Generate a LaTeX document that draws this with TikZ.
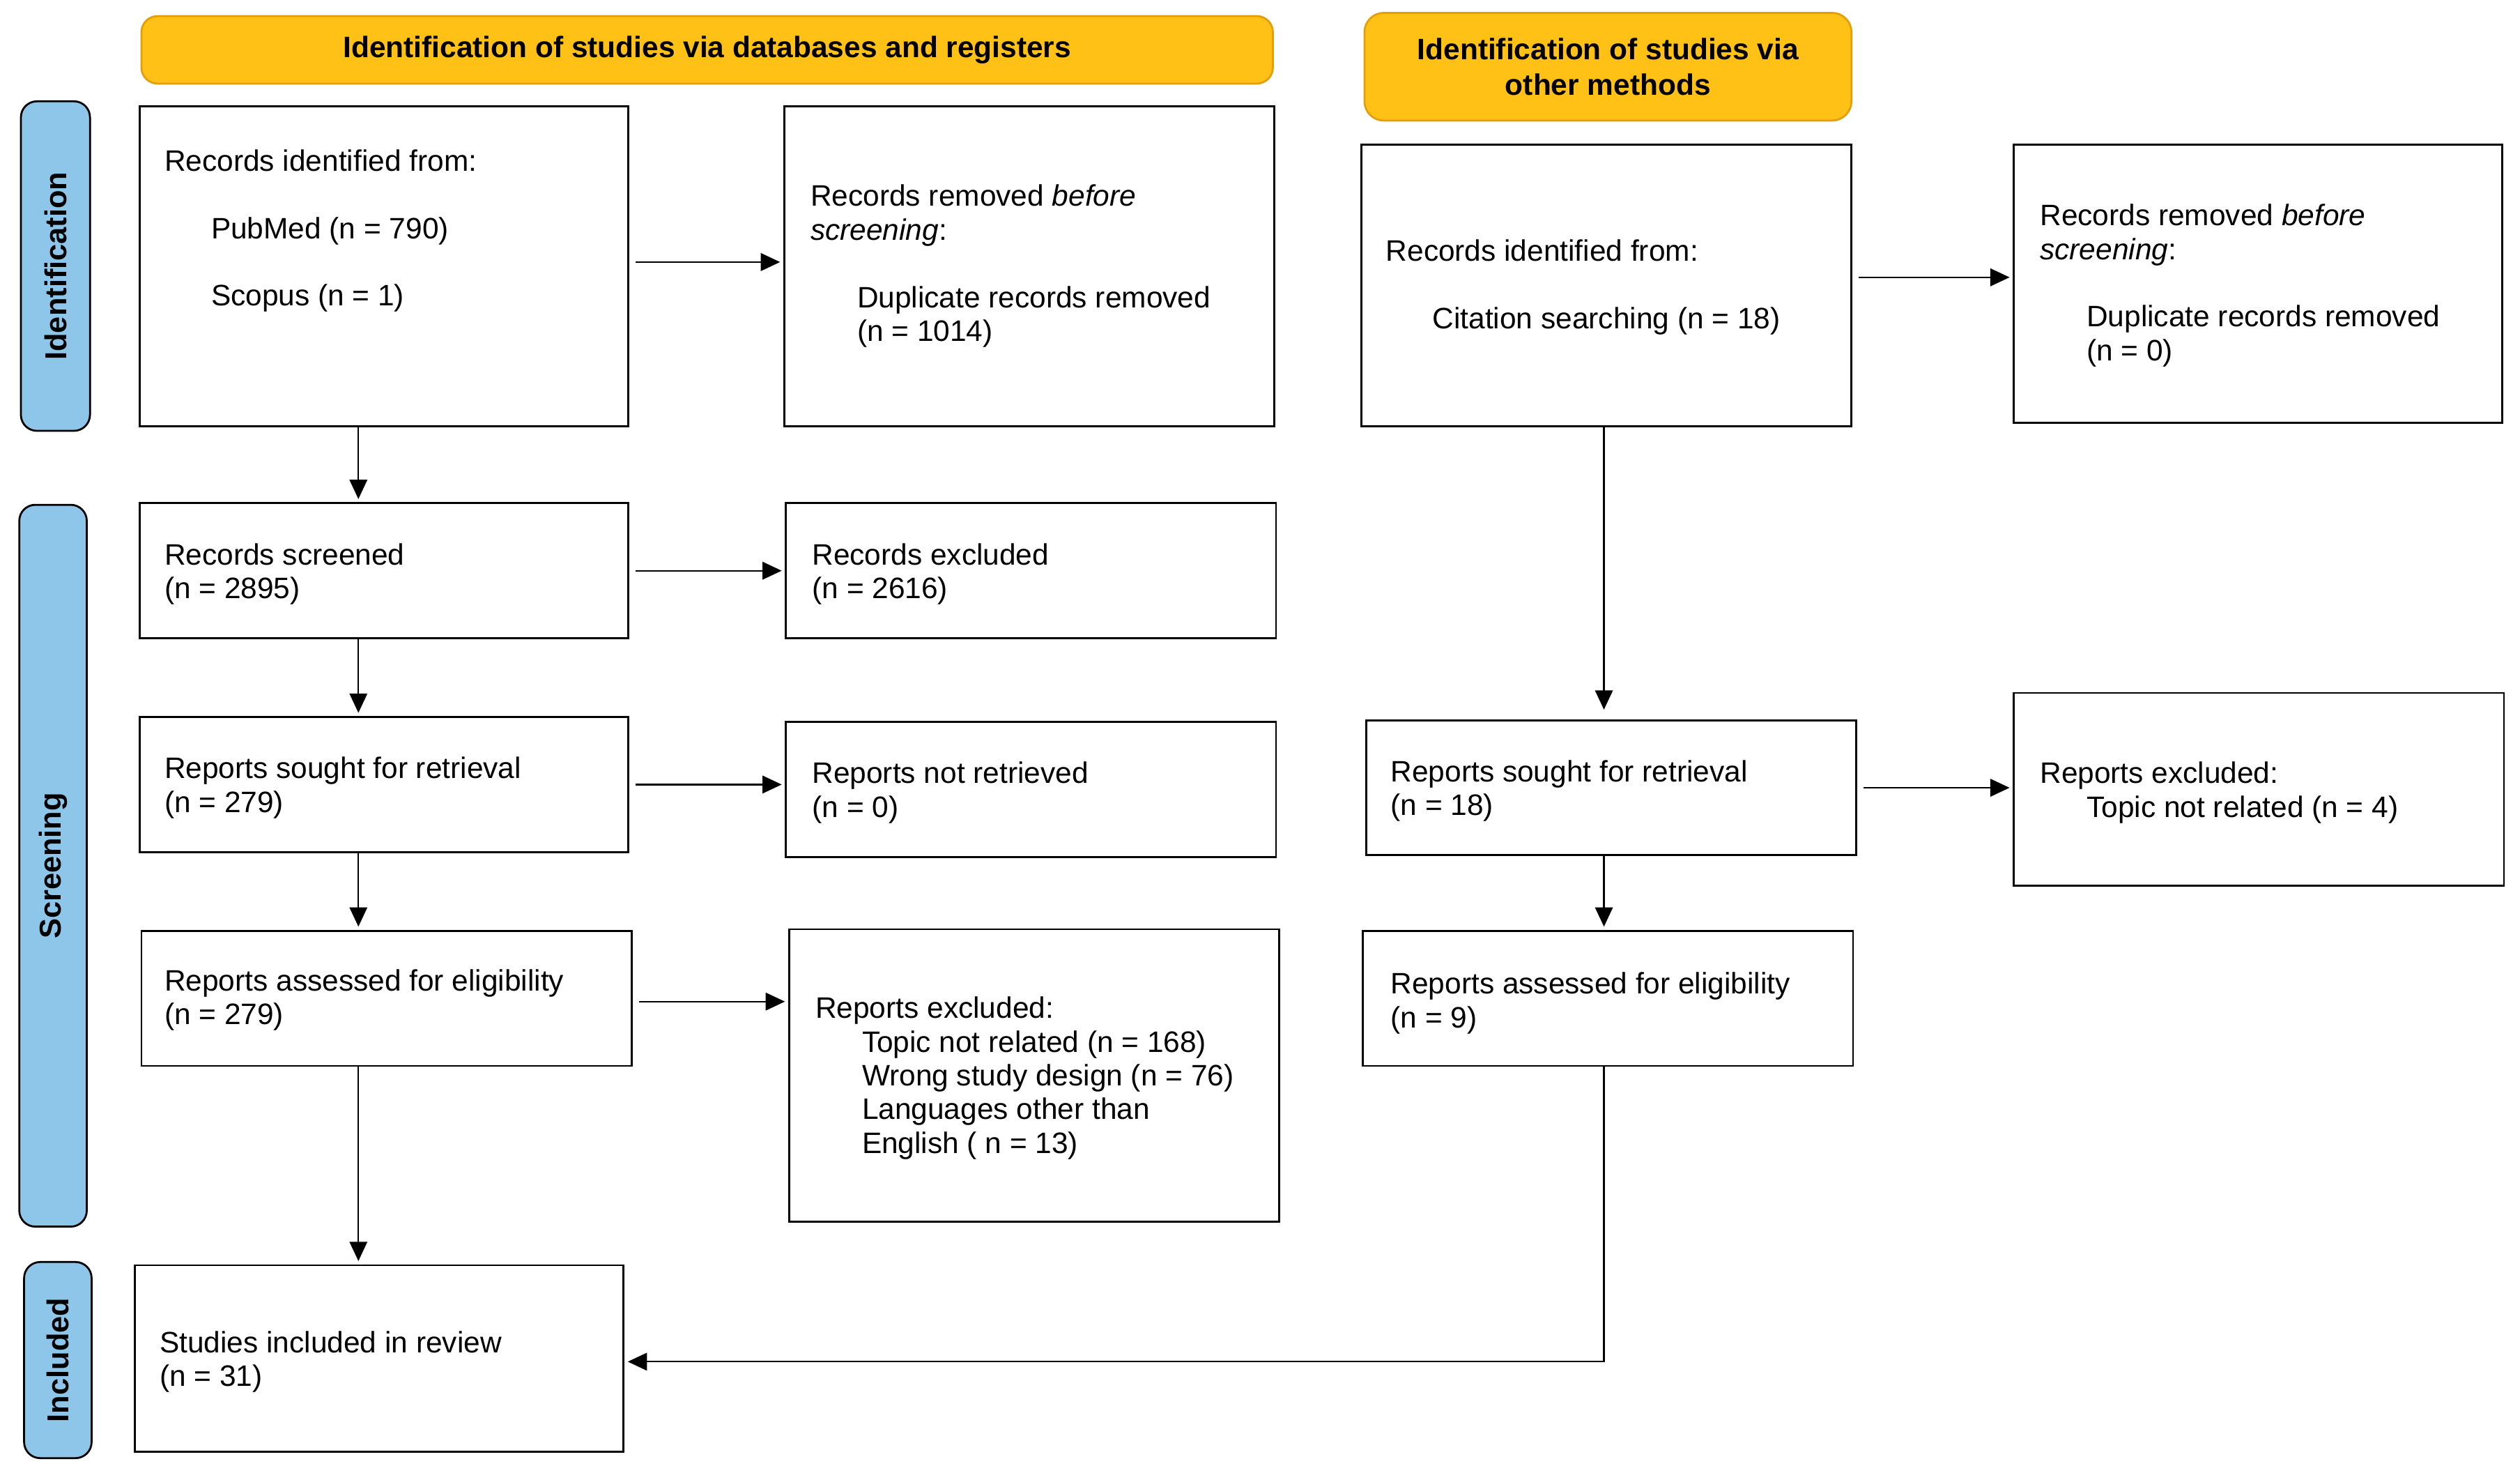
\documentclass[tikz,border=0pt]{standalone}
\usepackage{fontspec}
\setmainfont{Liberation Sans}
\usetikzlibrary{arrows.meta,fit,calc}
\definecolor{hdr}{HTML}{FFC116}
\definecolor{hdrline}{HTML}{E39E0A}
\definecolor{sidefill}{HTML}{8EC6EA}
\begin{document}
\begin{tikzpicture}[x=0.5pt,y=-0.5pt,
  box/.style={draw, line width=0.6pt, inner sep=0pt},
  hdrbox/.style={draw=hdrline, fill=hdr, rounded corners=5pt, line width=0.6pt, inner sep=0pt},
  sidebox/.style={draw=black, fill=sidefill, rounded corners=5pt, line width=0.6pt, inner sep=0pt},
  txt/.style={anchor=north west, inner sep=0pt, align=left, font=\fontsize{9.2}{10.5}\selectfont},
  hdrtxt/.style={inner sep=0pt, align=center, font=\fontsize{9.2}{11}\selectfont\bfseries},
  sidetxt/.style={inner sep=0pt, rotate=90, font=\fontsize{9.4}{11}\selectfont\bfseries},
  arr/.style={-{Triangle[length=6pt,width=5.5pt]}, line width=0.5pt, shorten >=1pt},
  harr/.style={arr, shorten <=2pt}
]
\useasboundingbox (0,0) rectangle (1568,916);
\def\ind{\hspace*{14.5pt}}
% headers
\node[hdrbox, fit={(88,10) (792,52)}] (H1) {};
\node[hdrtxt] (H1t) at (H1.center) {Identification of studies via databases and registers};
\node[hdrbox, rounded corners=6pt, fit={(849,8) (1152,75)}] (H2) {};
\node[hdrtxt] (H2t) at (H2.center) {Identification of studies via\\other methods};
% side labels
\node[sidebox, fit={(13,63) (56,268)}] (S1) {};
\node[sidetxt] (S1t) at (S1.center) {Identification};
\node[sidebox, fit={(12,314) (54,763)}] (S2) {};
\node[sidetxt] (S2t) at (S2.center) {Screening};
\node[sidebox, fit={(15,785) (57,907)}] (S3) {};
\node[sidetxt] (S3t) at (S3.center) {Included};
% left column boxes
\node[box, fit={(87,66) (391,265)}] (A1) {};
\node[box, fit={(488,66) (793,265)}] (A2) {};
\node[box, fit={(87,313) (391,397)}] (B1) {};
\node[box, fit={(489,313) (794,397)}] (B2) {};
\node[box, fit={(87,446) (391,530)}] (C1) {};
\node[box, fit={(489,449) (794,533)}] (C2) {};
\node[box, fit={(88,579) (393,663)}] (D1) {};
\node[box, fit={(491,578) (796,760)}] (D2) {};
\node[box, fit={(84,787) (388,903)}] (E) {};
% right column boxes
\node[box, fit={(847,90) (1152,265)}] (R1) {};
\node[box, fit={(1253,90) (1557,263)}] (R2) {};
\node[box, fit={(850,448) (1155,532)}] (R3) {};
\node[box, fit={(1253,431) (1558,551)}] (R4) {};
\node[box, fit={(848,579) (1153,663)}] (R5) {};
% texts
\node[txt] (A1t) at (102,92.6) {Records identified from:\\[10.5pt]\ind PubMed (n = 790)\\[10.5pt]\ind Scopus (n = 1)};
\node[txt] (A2t) at (504,114.6) {Records removed \textit{before}\\\textit{screening}:\\[10.5pt]\ind Duplicate records removed\\\ind (n = 1014)};
\node[txt] (B1t) at (102,337.6) {Records screened\\(n = 2895)};
\node[txt] (B2t) at (505,337.6) {Records excluded\\(n = 2616)};
\node[txt] (C1t) at (102,470.6) {Reports sought for retrieval\\(n = 279)};
\node[txt] (C2t) at (505,473.6) {Reports not retrieved\\(n = 0)};
\node[txt] (D1t) at (102,602.6) {Reports assessed for eligibility\\(n = 279)};
\node[txt] (D2t) at (507,619.6) {Reports excluded:\\\ind Topic not related (n = 168)\\\ind Wrong study design (n = 76)\\\ind Languages other than\\\ind English ( n = 13)};
\node[txt] (Et) at (99,827.6) {Studies included in review\\(n = 31)};
\node[txt] (R1t) at (862,148.6) {Records identified from:\\[10.5pt]\ind Citation searching (n = 18)};
\node[txt] (R2t) at (1269,126.6) {Records removed \textit{before}\\\textit{screening}:\\[10.5pt]\ind Duplicate records removed\\\ind (n = 0)};
\node[txt] (R3t) at (865,472.6) {Reports sought for retrieval\\(n = 18)};
\node[txt] (R4t) at (1269,473.6) {Reports excluded:\\\ind Topic not related (n = 4)};
\node[txt] (R5t) at (865,604.6) {Reports assessed for eligibility\\(n = 9)};
% column coordinates
\coordinate (cL) at (223,0);
\coordinate (cR) at (998,0);
\coordinate (yA) at (0,163);
\coordinate (yD) at (0,623);
\coordinate (yE) at (0,847);
% horizontal arrows
\draw[harr] (A1.east |- yA) -- (A2.west |- yA);
\draw[harr] (B1.east) -- (B1.east -| B2.west);
\draw[harr] (C1.east) -- (C1.east -| C2.west);
\draw[harr] (D1.east |- yD) -- (D2.west |- yD);
\draw[harr] ($(R1.east)+(0,-5)$) -- ($(R1.east -| R2.west)+(0,-5)$);
\draw[harr] (R3.east) -- (R3.east -| R4.west);
% vertical arrows
\draw[arr] (A1.south -| cL) -- (B1.north -| cL);
\draw[arr] (B1.south -| cL) -- (C1.north -| cL);
\draw[arr] (C1.south -| cL) -- (D1.north -| cL);
\draw[arr] (D1.south -| cL) -- (E.north -| cL);
\draw[arr, shorten >=3pt] (R1.south -| cR) -- (R3.north -| cR);
\draw[arr] (R3.south -| cR) -- (R5.north -| cR);
\draw[arr] (R5.south -| cR) -- (cR |- yE) -- (E.east |- yE);
\end{tikzpicture}
\end{document}
